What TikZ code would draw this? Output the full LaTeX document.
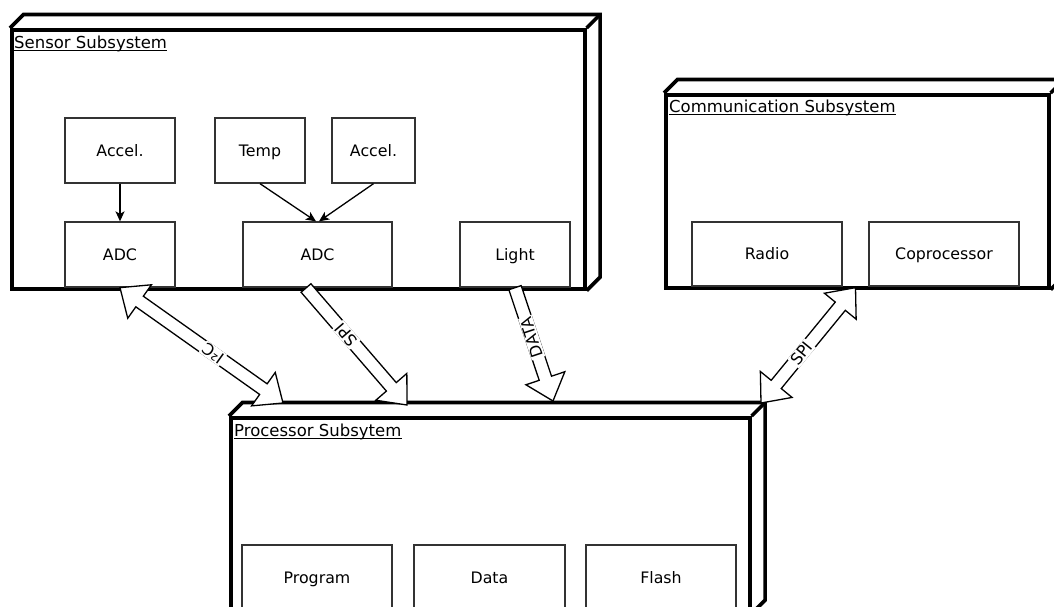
\documentclass[tikz,border=0pt]{standalone}
\usepackage{fontspec}
\setmainfont{DejaVu Sans}
\usetikzlibrary{calc,arrows.meta}
\tikzset{
  container/.style={draw=black, line width=3.6pt, fill=white, rectangle, inner sep=0pt},
  cline/.style={draw=black, line width=3.6pt},
  box/.style={draw=black!80, line width=1.3pt, rectangle, inner sep=0pt, text height=11.5pt, text depth=0pt,
              font=\fontsize{15.8}{18}\selectfont},
  title/.style={inner sep=0pt, anchor=west, text height=12pt, text depth=4pt, font=\fontsize{16.5}{19}\selectfont},
  uline/.style={draw=black, line width=1pt},
  thinarrow/.style={draw=black, line width=1.3pt, -{Stealth[length=10pt,width=9pt,inset=2.5pt]}},
  flex/.style={draw=black, line width=1.3pt, fill=white, line join=miter},
  flexlabel/.style={fill=white, inner sep=1.2pt, font=\fontsize{16}{18}\selectfont},
}
\newcommand\flexsingle[3]{%
  \coordinate (#3h) at ($(#2)!24pt!(#1)$);
  \draw[flex] ($(#1)!6.5pt!90:(#2)$) -- ($(#3h)!6.5pt!90:(#2)$) -- ($(#3h)!20.5pt!90:(#2)$) -- (#2)
     -- ($(#3h)!20.5pt!-90:(#2)$) -- ($(#3h)!6.5pt!-90:(#2)$) -- ($(#1)!6.5pt!-90:(#2)$) -- cycle;}
\newcommand\flexdouble[3]{%
  \coordinate (#3a) at ($(#1)!24pt!(#2)$);
  \coordinate (#3b) at ($(#2)!24pt!(#1)$);
  \draw[flex] (#1) -- ($(#3a)!20.5pt!90:(#2)$) -- ($(#3a)!6.5pt!90:(#2)$) -- ($(#3b)!6.5pt!90:(#2)$)
     -- ($(#3b)!20.5pt!90:(#2)$) -- (#2) -- ($(#3b)!20.5pt!-90:(#2)$) -- ($(#3b)!6.5pt!-90:(#2)$)
     -- ($(#3a)!6.5pt!-90:(#2)$) -- ($(#3a)!20.5pt!-90:(#2)$) -- cycle;}
\newcommand\titleline[1]{\draw[uline] ($(#1.base west)+(0,2.5)$) -- ($(#1.base east)+(0,2.5)$);}
\begin{document}
\begin{tikzpicture}[x=1pt,y=-1pt]
\useasboundingbox (0,0) rectangle (1054,606);
\clip (0,0) rectangle (1054,606);

% ---------- containers ----------
\node[container, minimum width=573pt, minimum height=259pt, anchor=north west] (sensor) at (10,28) {};
\draw[cline] (sensor.north west) -- ++(13.5,-13.5) -| ($(sensor.south east)+(13.5,-13.5)$) -- (sensor.south east);
\draw[cline] (sensor.north east) -- ++(13.5,-13.5);
\node[title] (sensorlabel) at (14,44) {Sensor Subsystem};
\titleline{sensorlabel}

\node[container, minimum width=383pt, minimum height=193pt, anchor=north west] (comm) at (664,93) {};
\draw[cline] (comm.north west) -- ++(13.5,-13.5) -| ($(comm.south east)+(13.5,-13.5)$) -- (comm.south east);
\draw[cline] (comm.north east) -- ++(13.5,-13.5);
\node[title] (commlabel) at (669,108) {Communication Subsystem};
\titleline{commlabel}

\node[container, minimum width=519pt, minimum height=194pt, anchor=north west] (proc) at (229,416) {};
\draw[cline] (proc.north west) -- ++(13.5,-13.5) -| ($(proc.south east)+(13.5,-13.5)$) -- (proc.south east);
\draw[cline] (proc.north east) -- ++(13.5,-13.5);
\node[title] (proclabel) at (234,432) {Processor Subsytem};
\titleline{proclabel}

% ---------- inner boxes ----------
\node[box, minimum width=110pt, minimum height=65pt] (accel1) at (120,150.5) {Accel.};
\node[box, minimum width=110pt, minimum height=65pt] (adc1) at (120,254.5) {ADC};
\node[box, minimum width=90pt, minimum height=65pt] (temp) at (260,150.5) {Temp};
\node[box, minimum width=83pt, minimum height=65pt] (accel2) at (373.5,150.5) {Accel.};
\node[box, minimum width=149pt, minimum height=65pt] (adc2) at (317.5,254.5) {ADC};
\node[box, minimum width=110pt, minimum height=65pt] (light) at (515,254.5) {Light};

\node[box, minimum width=150pt, minimum height=64pt] (radio) at (767,254) {Radio};
\node[box, minimum width=150pt, minimum height=64pt] (copro) at (944,254) {Coprocessor};

\node[box, minimum width=150pt, minimum height=66pt] (program) at (317,578) {Program};
\node[box, minimum width=151pt, minimum height=66pt] (data) at (489.5,578) {Data};
\node[box, minimum width=150pt, minimum height=66pt] (flash) at (661,578) {Flash};

% ---------- thin arrows ----------
\draw[thinarrow] (accel1.south) -- (adc1.north);
\draw[thinarrow] (temp.south) -- ($(adc2.north)+(-1.5,0)$);
\draw[thinarrow] (accel2.south) -- ($(adc2.north)+(1.5,0)$);

% ---------- block arrows ----------
\coordinate (i2cP) at (283,403);
\coordinate (spiS) at (306,288);
\coordinate (spiP) at (407,405);
\coordinate (dataP) at (553,401);
\coordinate (commS) at ($(radio.south east)!0.5!(copro.south west)+(0,1)$);
\coordinate (commP) at (761,403);

\flexdouble{i2cP}{adc1.south}{i2c}
\flexsingle{spiS}{spiP}{spi}
\flexsingle{light.south}{dataP}{dat}
\flexdouble{commP}{commS}{com}

\node[flexlabel, rotate=144.56] (i2clabel) at ($(i2cP)!0.43!(adc1.south)$) {I²C};
\node[flexlabel, rotate=130.8] (spilabel) at ($(spiS)!0.4!(spiP)$) {SPI};
\node[flexlabel, rotate=108.4] (datalabel) at ($(light.south)!0.44!(dataP)$) {DATA};
\node[flexlabel, rotate=50.8] (commlabel2) at ($(commP)!0.43!(commS)$) {SPI};
\end{tikzpicture}
\end{document}
